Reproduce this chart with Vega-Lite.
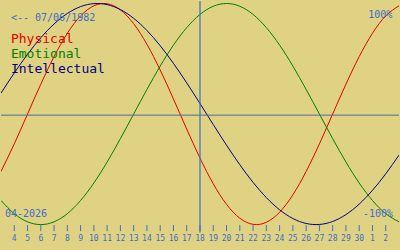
{
  "$schema": "https://vega.github.io/schema/vega-lite/v6.json",
  "width": 400,
  "height": 250,
  "padding": 0,
  "autosize": {"type": "fit", "contains": "padding"},
  "background": "#e0d283",
  "config": {"view": {"stroke": null}},
  "datasets": {
    "days": [
      {"d":4,"lab":"4"},{"d":5,"lab":"5"},{"d":6,"lab":"6"},{"d":7,"lab":"7"},{"d":8,"lab":"8"},{"d":9,"lab":"9"},{"d":10,"lab":"10"},{"d":11,"lab":"11"},{"d":12,"lab":"12"},{"d":13,"lab":"13"},{"d":14,"lab":"14"},{"d":15,"lab":"15"},{"d":16,"lab":"16"},{"d":17,"lab":"17"},{"d":18,"lab":"18"},{"d":19,"lab":"19"},{"d":20,"lab":"20"},{"d":21,"lab":"21"},{"d":22,"lab":"22"},{"d":23,"lab":"23"},{"d":24,"lab":"24"},{"d":25,"lab":"25"},{"d":26,"lab":"26"},{"d":27,"lab":"27"},{"d":28,"lab":"28"},{"d":29,"lab":"29"},{"d":30,"lab":"30"},{"d":31,"lab":"1"},{"d":32,"lab":"2"}
    ],
    "curves": [
    {"d":3,"s":"Physical","v":-0.5196},{"d":4,"s":"Physical","v":-0.2698},{"d":5,"s":"Physical","v":0},{"d":6,"s":"Physical","v":0.2698},{"d":7,"s":"Physical","v":0.5196},{"d":8,"s":"Physical","v":0.7308},{"d":9,"s":"Physical","v":0.8879},{"d":10,"s":"Physical","v":0.9791},{"d":11,"s":"Physical","v":0.9977},{"d":12,"s":"Physical","v":0.9423},{"d":13,"s":"Physical","v":0.817},{"d":14,"s":"Physical","v":0.6311},{"d":15,"s":"Physical","v":0.3984},{"d":16,"s":"Physical","v":0.1362},{"d":17,"s":"Physical","v":-0.1362},{"d":18,"s":"Physical","v":-0.3984},{"d":19,"s":"Physical","v":-0.6311},{"d":20,"s":"Physical","v":-0.817},{"d":21,"s":"Physical","v":-0.9423},{"d":22,"s":"Physical","v":-0.9977},{"d":23,"s":"Physical","v":-0.9791},{"d":24,"s":"Physical","v":-0.8879},{"d":25,"s":"Physical","v":-0.7308},{"d":26,"s":"Physical","v":-0.5196},{"d":27,"s":"Physical","v":-0.2698},{"d":28,"s":"Physical","v":0},{"d":29,"s":"Physical","v":0.2698},{"d":30,"s":"Physical","v":0.5196},{"d":31,"s":"Physical","v":0.7308},{"d":32,"s":"Physical","v":0.8879},{"d":33,"s":"Physical","v":0.9791},
    {"d":3,"s":"Emotional","v":-0.7818},{"d":4,"s":"Emotional","v":-0.901},{"d":5,"s":"Emotional","v":-0.9749},{"d":6,"s":"Emotional","v":-1},{"d":7,"s":"Emotional","v":-0.9749},{"d":8,"s":"Emotional","v":-0.901},{"d":9,"s":"Emotional","v":-0.7818},{"d":10,"s":"Emotional","v":-0.6235},{"d":11,"s":"Emotional","v":-0.4339},{"d":12,"s":"Emotional","v":-0.2225},{"d":13,"s":"Emotional","v":0},{"d":14,"s":"Emotional","v":0.2225},{"d":15,"s":"Emotional","v":0.4339},{"d":16,"s":"Emotional","v":0.6235},{"d":17,"s":"Emotional","v":0.7818},{"d":18,"s":"Emotional","v":0.901},{"d":19,"s":"Emotional","v":0.9749},{"d":20,"s":"Emotional","v":1},{"d":21,"s":"Emotional","v":0.9749},{"d":22,"s":"Emotional","v":0.901},{"d":23,"s":"Emotional","v":0.7818},{"d":24,"s":"Emotional","v":0.6235},{"d":25,"s":"Emotional","v":0.4339},{"d":26,"s":"Emotional","v":0.2225},{"d":27,"s":"Emotional","v":0},{"d":28,"s":"Emotional","v":-0.2225},{"d":29,"s":"Emotional","v":-0.4339},{"d":30,"s":"Emotional","v":-0.6235},{"d":31,"s":"Emotional","v":-0.7818},{"d":32,"s":"Emotional","v":-0.901},{"d":33,"s":"Emotional","v":-0.9749},
    {"d":3,"s":"Intellectual","v":0.1893},{"d":4,"s":"Intellectual","v":0.3717},{"d":5,"s":"Intellectual","v":0.5406},{"d":6,"s":"Intellectual","v":0.6901},{"d":7,"s":"Intellectual","v":0.8146},{"d":8,"s":"Intellectual","v":0.9096},{"d":9,"s":"Intellectual","v":0.9718},{"d":10,"s":"Intellectual","v":0.9989},{"d":11,"s":"Intellectual","v":0.9898},{"d":12,"s":"Intellectual","v":0.945},{"d":13,"s":"Intellectual","v":0.866},{"d":14,"s":"Intellectual","v":0.7557},{"d":15,"s":"Intellectual","v":0.6182},{"d":16,"s":"Intellectual","v":0.4582},{"d":17,"s":"Intellectual","v":0.2817},{"d":18,"s":"Intellectual","v":0.0951},{"d":19,"s":"Intellectual","v":-0.0951},{"d":20,"s":"Intellectual","v":-0.2817},{"d":21,"s":"Intellectual","v":-0.4582},{"d":22,"s":"Intellectual","v":-0.6182},{"d":23,"s":"Intellectual","v":-0.7557},{"d":24,"s":"Intellectual","v":-0.866},{"d":25,"s":"Intellectual","v":-0.945},{"d":26,"s":"Intellectual","v":-0.9898},{"d":27,"s":"Intellectual","v":-0.9989},{"d":28,"s":"Intellectual","v":-0.9718},{"d":29,"s":"Intellectual","v":-0.9096},{"d":30,"s":"Intellectual","v":-0.8146},{"d":31,"s":"Intellectual","v":-0.6901},{"d":32,"s":"Intellectual","v":-0.5406},{"d":33,"s":"Intellectual","v":-0.3717}
    ],
    "one": [{}]
  },
  "layer": [
    {
      "data": {"name": "curves"},
      "mark": {"type": "line", "strokeWidth": 1, "interpolate": "natural", "clip": true},
      "encoding": {
        "x": {"field": "d", "type": "quantitative", "scale": {"domain": [3, 33], "nice": false, "zero": false}, "axis": null},
        "y": {"field": "v", "type": "quantitative", "scale": {"domain": [-1.2297, 1.0225], "nice": false, "zero": false}, "axis": null},
        "color": {"field": "s", "type": "nominal", "legend": null,
          "scale": {"domain": ["Physical", "Emotional", "Intellectual"], "range": ["#e00000", "#008000", "#000080"]}}
      }
    },
    {
      "data": {"name": "days"},
      "mark": {"type": "rule", "color": "#3b6fc9", "strokeWidth": 1},
      "encoding": {
        "x": {"field": "d", "type": "quantitative"},
        "y": {"datum": -1.0045},
        "y2": {"datum": -1.0586}
      }
    },
    {
      "data": {"name": "days"},
      "mark": {"type": "text", "font": "DejaVu Sans Mono", "fontSize": 8, "color": "#3b6fc9", "align": "center", "baseline": "alphabetic"},
      "encoding": {
        "x": {"field": "d", "type": "quantitative"},
        "y": {"datum": -1.149},
        "text": {"field": "lab"}
      }
    },
    {
      "data": {"name": "one"},
      "mark": {"type": "rule", "color": "#4f6f94", "strokeWidth": 1},
      "encoding": {"y": {"datum": -0.01}}
    },
    {
      "data": {"name": "one"},
      "mark": {"type": "rule", "color": "#3b6fc9", "strokeWidth": 1.2},
      "encoding": {
        "x": {"datum": 18},
        "y": {"datum": 1.0225},
        "y2": {"datum": -1.072}
      }
    },
    {
      "data": {"name": "one"},
      "mark": {"type": "text", "text": "<-- 07/06/1982", "font": "DejaVu Sans Mono", "fontSize": 10, "color": "#3b6fc9", "align": "left", "baseline": "alphabetic"},
      "encoding": {"x": {"datum": 3.75}, "y": {"datum": 0.842}}
    },
    {
      "data": {"name": "one"},
      "mark": {"type": "text", "text": "Physical", "font": "DejaVu Sans Mono", "fontSize": 13, "color": "#e00000", "align": "left", "baseline": "alphabetic"},
      "encoding": {"x": {"datum": 3.75}, "y": {"datum": 0.641}}
    },
    {
      "data": {"name": "one"},
      "mark": {"type": "text", "text": "Emotional", "font": "DejaVu Sans Mono", "fontSize": 13, "color": "#008000", "align": "left", "baseline": "alphabetic"},
      "encoding": {"x": {"datum": 3.75}, "y": {"datum": 0.506}}
    },
    {
      "data": {"name": "one"},
      "mark": {"type": "text", "text": "Intellectual", "font": "DejaVu Sans Mono", "fontSize": 13, "color": "#000080", "align": "left", "baseline": "alphabetic"},
      "encoding": {"x": {"datum": 3.75}, "y": {"datum": 0.371}}
    },
    {
      "data": {"name": "one"},
      "mark": {"type": "text", "text": "100%", "font": "DejaVu Sans Mono", "fontSize": 10, "color": "#3b6fc9", "align": "right", "baseline": "alphabetic"},
      "encoding": {"x": {"datum": 32.5}, "y": {"datum": 0.872}}
    },
    {
      "data": {"name": "one"},
      "mark": {"type": "text", "text": "-100%", "font": "DejaVu Sans Mono", "fontSize": 10, "color": "#3b6fc9", "align": "right", "baseline": "alphabetic"},
      "encoding": {"x": {"datum": 32.55}, "y": {"datum": -0.93}}
    },
    {
      "data": {"name": "one"},
      "mark": {"type": "text", "text": "04-2026", "font": "DejaVu Sans Mono", "fontSize": 10, "color": "#3b6fc9", "align": "left", "baseline": "alphabetic"},
      "encoding": {"x": {"datum": 3.3}, "y": {"datum": -0.93}}
    }
  ]
}
